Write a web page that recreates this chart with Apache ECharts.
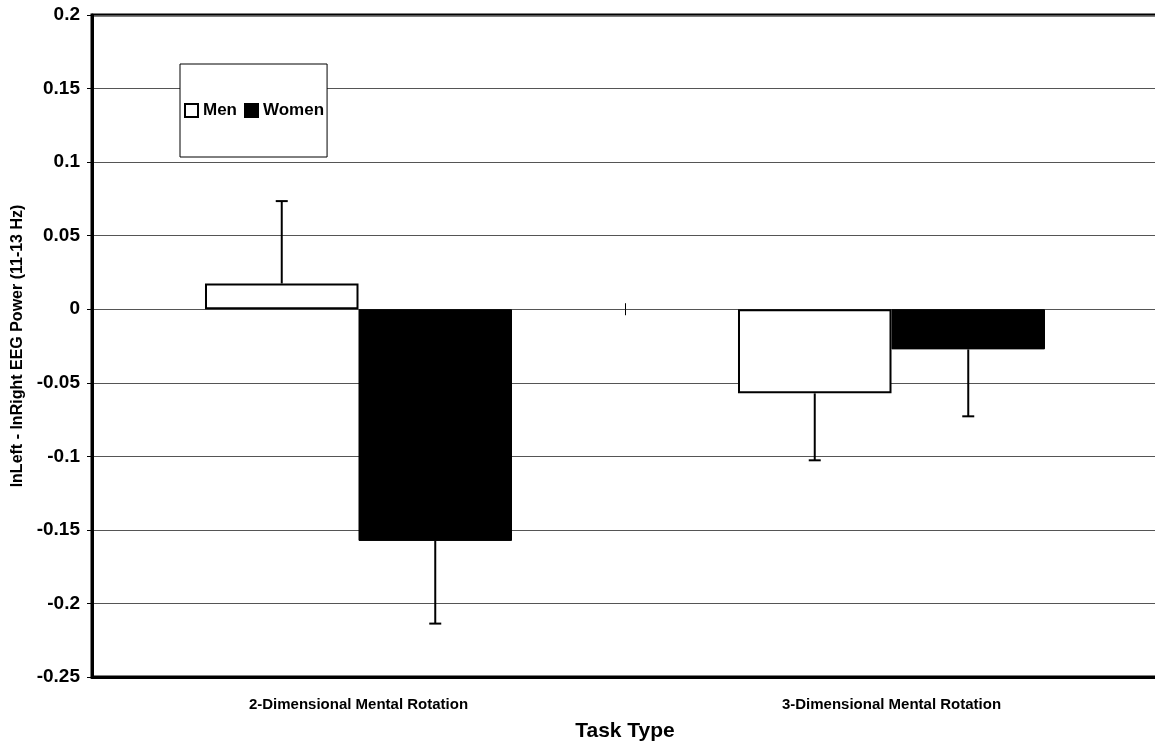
<!DOCTYPE html>
<html>
<head>
<meta charset="utf-8">
<script src="https://cdn.jsdelivr.net/npm/echarts@6/dist/echarts.min.js"></script>
<style>
  html, body { margin: 0; padding: 0; background: #fff; }
  #chart { width: 1155px; height: 741px; }
</style>
</head>
<body>
<div id="chart"></div>
<script>
var categories = ['2-Dimensional Mental Rotation', '3-Dimensional Mental Rotation'];
var menMean = [0.0175, -0.0572];
var womenMean = [-0.1575, -0.0273];
// end of each error bar (one-sided, pointing away from zero)
var menErrEnd = [0.0735, -0.1027];
var womenErrEnd = [-0.2137, -0.0728];

var FONT = 'Liberation Sans, Arial, sans-serif';
var BAR_FRAC = 0.288;

function errData(means, ends) {
    return means.map(function (m, i) { return [i, m, ends[i]]; });
}

function errRender(offsetSign) {
    return function (params, api) {
        var band = api.size([1, 0])[0];
        var dx = offsetSign * band * BAR_FRAC / 2;
        var p0 = api.coord([api.value(0), api.value(1)]);
        var p1 = api.coord([api.value(0), api.value(2)]);
        var x = p0[0] + dx;
        var style = { stroke: '#000', lineWidth: 2 };
        return {
            type: 'group',
            children: [
                { type: 'line', shape: { x1: x, y1: p0[1], x2: x, y2: p1[1] }, style: style },
                { type: 'line', shape: { x1: x - 6, y1: p1[1], x2: x + 6, y2: p1[1] }, style: style }
            ]
        };
    };
}

// thin axis that sits on the zero line and only shows the category-boundary ticks
function zeroTickAxis(inside) {
    return {
        type: 'category', data: categories, position: 'bottom',
        axisLine: { show: true, onZero: true, onZeroAxisIndex: 0, lineStyle: { opacity: 0 } },
        axisTick: { show: true, inside: inside, length: 6, lineStyle: { color: '#000', width: 1 } },
        axisLabel: { show: false },
        splitLine: { show: false }
    };
}

var chart = echarts.init(document.getElementById('chart'));
var option = {
    backgroundColor: '#fff',
    animation: false,
    grid: {
        left: 92, top: 15, width: 1066, height: 662,
        outerBoundsMode: 'none', containLabel: false,
        show: true, borderColor: '#000', borderWidth: 3, backgroundColor: 'transparent'
    },
    legend: {
        data: ['Men', 'Women'],
        icon: 'rect',
        left: 180, top: 64,
        padding: [38, 3, 38, 4],
        itemGap: 7,
        itemWidth: 13, itemHeight: 13,
        backgroundColor: '#fff',
        borderColor: '#000', borderWidth: 1,
        textStyle: { fontFamily: FONT, fontSize: 17, fontWeight: 'bold', color: '#000' }
    },
    xAxis: [
        {
            type: 'category', data: categories, position: 'bottom',
            axisLine: { onZero: false, lineStyle: { color: '#000', width: 3 } },
            axisTick: { show: false },
            axisLabel: { fontFamily: FONT, fontSize: 15, fontWeight: 'bold', color: '#000', margin: 20 },
            name: 'Task Type', nameLocation: 'middle', nameGap: 44,
            nameTextStyle: { fontFamily: FONT, fontSize: 21, fontWeight: 'bold', color: '#000' }
        },
        zeroTickAxis(false),
        zeroTickAxis(true)
    ],
    yAxis: {
        type: 'value', min: -0.25, max: 0.2, interval: 0.05,
        axisLine: { show: true, lineStyle: { color: '#000', width: 3 } },
        axisTick: { show: true, length: 5, lineStyle: { color: '#000', width: 1 } },
        axisLabel: {
            fontFamily: FONT, fontSize: 19, fontWeight: 'bold', color: '#000', margin: 12,
            formatter: function (v) { return String(parseFloat(v.toFixed(2))); }
        },
        splitLine: { show: true, lineStyle: { color: '#555', width: 1 } },
        name: 'lnLeft - lnRight EEG Power (11-13 Hz)',
        nameLocation: 'middle', nameGap: 62,
        nameTextStyle: { fontFamily: FONT, fontSize: 16, fontWeight: 'bold', color: '#000' }
    },
    series: [
        {
            name: 'Men', type: 'bar', data: menMean,
            barWidth: (BAR_FRAC * 100) + '%', barGap: '0%',
            itemStyle: { color: '#fff', borderColor: '#000', borderWidth: 2 },
            z: 3
        },
        {
            name: 'Women', type: 'bar', data: womenMean,
            barWidth: (BAR_FRAC * 100) + '%', barGap: '0%',
            itemStyle: { color: '#000', borderColor: '#000', borderWidth: 1 },
            z: 3
        },
        {
            type: 'custom', data: errData(menMean, menErrEnd),
            renderItem: errRender(-1), encode: { x: 0, y: [1, 2] }, z: 4
        },
        {
            type: 'custom', data: errData(womenMean, womenErrEnd),
            renderItem: errRender(1), encode: { x: 0, y: [1, 2] }, z: 4
        }
    ]
};
chart.setOption(option);
</script>
</body>
</html>
